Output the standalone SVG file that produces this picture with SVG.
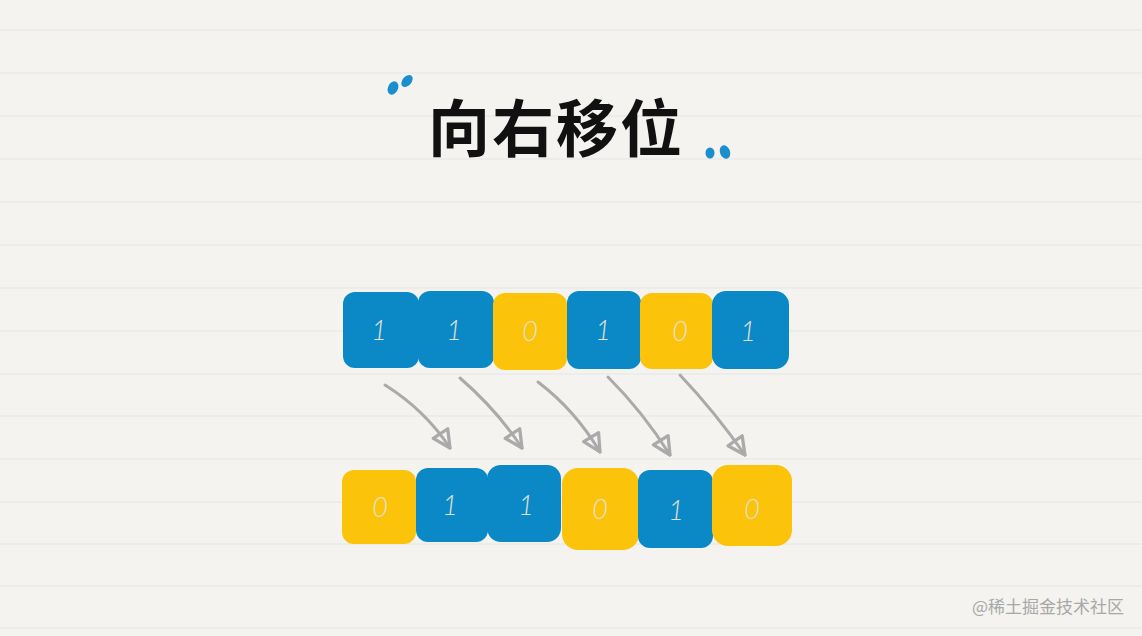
<svg xmlns="http://www.w3.org/2000/svg" width="1142" height="636" viewBox="0 0 1142 636">
<defs>
<style>
.rule{stroke:#e3e5e7;stroke-width:1.2}
.b{fill:#0a89c6}
.y{fill:#fcc30b}
.n{font-family:"Lato","Open Sans","Liberation Sans",sans-serif;font-size:27px;font-weight:300;font-style:italic;fill:#e2e0d4;text-anchor:middle}
.arr{fill:none;stroke:#aaaaaa;stroke-width:3;stroke-linecap:round}
.q{fill:#1a8fcc}
</style>
<marker id="ah" markerUnits="userSpaceOnUse" markerWidth="26" markerHeight="26" viewBox="-2 -2 24 24" refX="18" refY="10" orient="auto">
<path d="M2,2 L18,10 L2,18 Z" fill="none" stroke="#aaaaaa" stroke-width="3" stroke-linejoin="round"/>
</marker>
</defs>
<rect width="1142" height="636" fill="#f4f3ef"/>
<g id="rules">
<line class="rule" x1="0" y1="30" x2="1142" y2="30"/>
<line class="rule" x1="0" y1="73" x2="1142" y2="73"/>
<line class="rule" x1="0" y1="116" x2="1142" y2="116"/>
<line class="rule" x1="0" y1="159" x2="1142" y2="159"/>
<line class="rule" x1="0" y1="202" x2="1142" y2="202"/>
<line class="rule" x1="0" y1="245" x2="1142" y2="245"/>
<line class="rule" x1="0" y1="288" x2="1142" y2="288"/>
<line class="rule" x1="0" y1="331" x2="1142" y2="331"/>
<line class="rule" x1="0" y1="374" x2="1142" y2="374"/>
<line class="rule" x1="0" y1="416" x2="1142" y2="416"/>
<line class="rule" x1="0" y1="459" x2="1142" y2="459"/>
<line class="rule" x1="0" y1="502" x2="1142" y2="502"/>
<line class="rule" x1="0" y1="544" x2="1142" y2="544"/>
<line class="rule" x1="0" y1="586" x2="1142" y2="586"/>
<line class="rule" x1="0" y1="628" x2="1142" y2="628"/>
</g>
<g id="title">
<ellipse class="q" cx="393" cy="88" rx="5" ry="7" transform="rotate(25 393 88)"/>
<ellipse class="q" cx="407" cy="81" rx="4.5" ry="7" transform="rotate(40 407 81)"/>
<ellipse class="q" cx="710" cy="153" rx="4.5" ry="5.5"/>
<ellipse class="q" cx="725" cy="152" rx="5" ry="7" transform="rotate(-20 725 152)"/>
<text x="556" y="152" font-family="'Noto Sans CJK SC',sans-serif" font-size="62" font-weight="bold" fill="#111" text-anchor="middle" letter-spacing="2">向右移位</text>
</g>
<g id="row-top">
<g id="t1"><rect class="b" x="343" y="292" width="76" height="76" rx="12"/><text class="n" x="379" y="340">1</text></g>
<g id="t2"><rect class="b" x="418" y="291" width="76" height="77" rx="12"/><text class="n" x="454" y="340">1</text></g>
<g id="t3"><rect class="y" x="493" y="293" width="74" height="77" rx="12"/><text class="n" x="530" y="341">0</text></g>
<g id="t4"><rect class="b" x="567" y="291" width="74" height="78" rx="12"/><text class="n" x="603" y="340">1</text></g>
<g id="t5"><rect class="y" x="640" y="293" width="73" height="76" rx="12"/><text class="n" x="680" y="341">0</text></g>
<g id="t6"><rect class="b" x="712" y="291" width="77" height="78" rx="14"/><text class="n" x="748" y="341">1</text></g>
</g>
<g id="connectors">
<path class="arr" d="M385,385 Q425,410 450,448" marker-end="url(#ah)"/>
<path class="arr" d="M460,378 Q497,410 522,448" marker-end="url(#ah)"/>
<path class="arr" d="M538,382 Q575,410 600,452" marker-end="url(#ah)"/>
<path class="arr" d="M608,377 Q643,412 670,455" marker-end="url(#ah)"/>
<path class="arr" d="M680,375 Q715,412 745,455" marker-end="url(#ah)"/>
</g>
<g id="row-bottom">
<g id="b1"><rect class="y" x="342" y="470" width="74" height="74" rx="12"/><text class="n" x="380" y="517">0</text></g>
<g id="b2"><rect class="b" x="416" y="468" width="72" height="74" rx="12"/><text class="n" x="450" y="515">1</text></g>
<g id="b3"><rect class="b" x="487" y="465" width="74" height="77" rx="14"/><text class="n" x="526" y="515">1</text></g>
<g id="b4"><rect class="y" x="562" y="468" width="77" height="82" rx="16"/><text class="n" x="600" y="519">0</text></g>
<g id="b5"><rect class="b" x="638" y="470" width="75" height="78" rx="12"/><text class="n" x="676" y="520">1</text></g>
<g id="b6"><rect class="y" x="712" y="465" width="80" height="81" rx="16"/><text class="n" x="752" y="519">0</text></g>
</g>
<text x="1124" y="613" font-family="'Noto Sans CJK SC',sans-serif" font-size="17" fill="#a8a8a8" text-anchor="end">@稀土掘金技术社区</text>
</svg>
